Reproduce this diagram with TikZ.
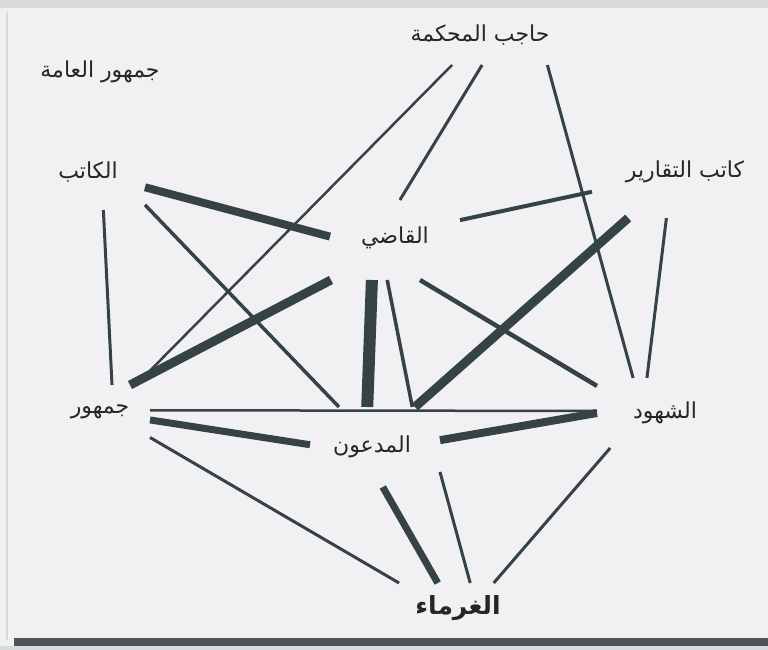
\documentclass[tikz,border=0pt]{standalone}
\usepackage{fontspec}
\usepackage{xcolor}
\usepackage{tikz}
\newfontfamily\arabicfont[Script=Arabic]{DejaVu Sans}
\TeXXeTstate=1
\definecolor{paperbg}{HTML}{F1F1F4}
\definecolor{inkgray}{HTML}{364345}
\definecolor{scanedge}{HTML}{D8DBDB}
\definecolor{scandark}{HTML}{4D5656}

\begin{document}
\begin{tikzpicture}[
  x=1pt, y=-1pt,
  role/.style={rectangle, inner sep=0pt, outer sep=0pt, align=center,
               font=\fontsize{22}{26}\selectfont\arabicfont, text=black!85},
  tie/.style={draw=inkgray, line width=3pt},
  midtie/.style={draw=inkgray, line width=4.5pt},
  heavytie/.style={draw=inkgray, line width=8.5pt}
]
  % scanned page
  \useasboundingbox (0,0) rectangle (768,650);
  \fill[paperbg] (0,0) rectangle (768,650);
  \fill[scanedge] (0,0) rectangle (768,8);
  \draw[scanedge, line width=2pt] (7,12) -- (7,640);
  \fill[scandark] (14,638) rectangle (768,646);
  \fill[scanedge] (0,646) rectangle (768,650);

  % roles
  \node[role] (amma) at (100,72) {\beginR جمهور العامة\endR};
  \node[role, minimum width=144, minimum height=60] (hajib) at (480,35) {\beginR حاجب المحكمة\endR};
  \node[role, minimum width=114, minimum height=76] (kateb) at (88,172) {\raisebox{3pt}{\beginR الكاتب\endR}};
  \node[role, minimum width=186, minimum height=92] (taqarir) at (685,172) {\raisebox{3pt}{\beginR كاتب التقارير\endR}};
  \node[role, minimum width=130, minimum height=80] (qadi) at (395,240) {\raisebox{10pt}{\beginR القاضي\endR}};
  \node[role, minimum width=100, minimum height=54] (jumhur) at (100,412) {\beginR جمهور\endR};
  \node[role, minimum width=130, minimum height=80] (muddaun) at (375,447) {\hspace*{-6pt}\beginR المدعون\endR};
  \node[role, minimum width=116, minimum height=70] (shuhud) at (655,413) {\hspace*{20pt}\beginR الشهود\endR};
  \node[role, minimum width=120, minimum height=50, font=\fontsize{25}{30}\selectfont\arabicfont\bfseries] (ghurama) at (458,608) {\beginR الغرماء\endR};

  % ties
  \draw[tie, line width=2.5pt] (hajib.-133) -- (jumhur.37);
  \draw[tie] (hajib.-86) -- (qadi.83);
  \draw[tie] (hajib.-24) -- (shuhud.122);
  \draw[heavytie, line width=8pt] (kateb.-15) -- (qadi.177);
  \draw[tie, line width=3.5pt] (kateb.-30) -- (muddaun.132);
  \draw[tie] (kateb.-68) -- (jumhur.66);
  \draw[heavytie, line width=9pt] (qadi.-148) -- (jumhur.42);
  \draw[midtie, line width=4pt] (taqarir.-168) -- (qadi.17);
  \draw[heavytie, line width=9pt] (taqarir.-141) -- (muddaun.45);
  \draw[tie] (taqarir.-112) -- (shuhud.103);
  \draw[heavytie, line width=12pt] (qadi.-120) -- (muddaun.101);
  \draw[tie, line width=3.5pt] (qadi.-101) -- (muddaun.47);
  \draw[midtie] (qadi.-58) -- (shuhud.155);
  \draw[tie, line width=2.5pt] (jumhur.2) -- (shuhud.178);
  \draw[heavytie, line width=7pt] (jumhur.-9) -- (muddaun.178);
  \draw[heavytie, line width=8pt] (shuhud.180) -- (muddaun.6);
  \draw[tie] (jumhur.-27) -- (ghurama.157);
  \draw[heavytie, line width=7pt] (muddaun.-79) -- (ghurama.129);
  \draw[tie] (muddaun.-21) -- (ghurama.64);
  \draw[tie] (shuhud.-142) -- (ghurama.35);
\end{tikzpicture}
\end{document}
